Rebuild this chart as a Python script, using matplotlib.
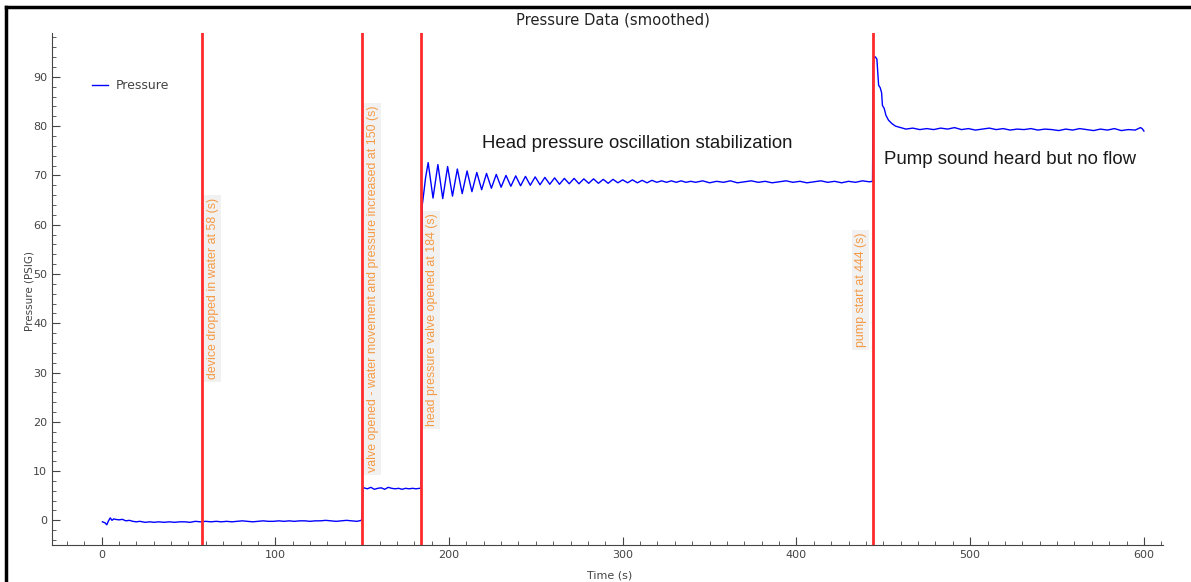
import matplotlib
matplotlib.use('Agg')
import matplotlib.pyplot as plt
from matplotlib.lines import Line2D
from matplotlib.ticker import MultipleLocator

# pressure trace (time in s, pressure in PSIG)
t_rest = [0.5, 2, 3, 4, 5, 6, 7, 8, 10, 12, 14, 16, 18, 20, 22, 25, 28, 30, 33, 36, 39, 42, 45, 48,
          51, 54, 57, 60, 63, 66, 69, 72, 75, 78, 81, 84, 87, 90, 93, 96, 99, 102, 105, 108, 111,
          114, 117, 120, 123, 126, 129, 132, 135, 138, 141, 144, 147, 149.6]
p_rest = [-0.3, -0.5, -0.9, -0.1, 0.5, 0.0, 0.3, 0.2, 0.1, 0.2, -0.1, 0.0, -0.2, -0.3, -0.2, -0.4,
          -0.3, -0.4, -0.3, -0.4, -0.3, -0.4, -0.3, -0.3, -0.4, -0.2, -0.3, -0.2, -0.3, -0.2,
          -0.3, -0.2, -0.3, -0.2, -0.1, -0.2, -0.3, -0.2, -0.1, -0.2, -0.2, -0.1, -0.2, -0.1,
          -0.2, -0.1, -0.1, -0.2, -0.1, -0.1, 0.0, -0.1, -0.2, -0.1, 0.0, -0.1, -0.2, 0.0]

t_valve = [150.0, 150.4, 151, 153, 155, 157, 159, 161, 163, 165, 167, 169, 171, 173, 175, 177,
           179, 181, 183, 184.0]
p_valve = [0.8, 6.7, 6.6, 6.4, 6.7, 6.3, 6.5, 6.6, 6.3, 6.7, 6.5, 6.4, 6.5, 6.3, 6.5, 6.4,
           6.5, 6.4, 6.5, 6.5]

t_head = [184.6, 185.5, 186.5, 188, 190.8, 193.6, 196.4, 199.2, 202, 204.8, 207.6, 210.4, 213.2,
          216, 218.8, 221.6, 224.4, 227.2, 230, 232.8, 235.6, 238.4, 241.2, 244, 246.8, 249.6,
          252.4, 255.2, 258, 260.8, 263.6, 266.4, 269.2, 272, 274.8, 277.6, 280.4, 283.2, 286,
          288.8, 291.6, 294.4, 297.2, 300, 302.8, 305.6, 308.4, 311.2, 314, 316.8, 319.6, 322.4,
          325.2, 328, 330.8, 333.6, 336.4, 339.2, 342, 346, 350, 354, 358, 362, 366, 370, 374,
          378, 382, 386, 390, 394, 398, 402, 406, 410, 414, 418, 422, 426, 430, 434, 438, 442,
          443.8]
p_head = [64.0, 66.5, 69.5, 72.6, 65.4, 72.2, 65.3, 71.8, 65.8, 71.3, 66.3, 70.9, 66.7, 70.6,
          67.1, 70.4, 67.4, 70.2, 67.6, 70.0, 67.8, 69.9, 67.9, 69.8, 68.0, 69.7, 68.1, 69.6,
          68.2, 69.5, 68.2, 69.4, 68.3, 69.4, 68.3, 69.3, 68.4, 69.3, 68.4, 69.2, 68.4, 69.2,
          68.5, 69.1, 68.5, 69.1, 68.5, 69.0, 68.5, 69.0, 68.6, 68.9, 68.6, 68.9, 68.6, 68.9,
          68.6, 68.8, 68.6, 68.9, 68.5, 68.8, 68.6, 68.9, 68.5, 68.7, 68.9, 68.6, 68.8, 68.5,
          68.7, 68.9, 68.6, 68.8, 68.5, 68.7, 68.9, 68.6, 68.8, 68.5, 68.8, 68.6, 68.9, 68.7,
          68.8]

t_pump = [444.2, 444.6, 445.5, 446.3, 446.8, 447.3, 448.2, 449.0, 449.5, 450.5, 451.5, 453,
          455, 457, 460, 463, 467, 471, 475, 479, 483, 487, 491, 495, 499, 503, 507, 511, 515,
          519, 523, 527, 531, 535, 539, 543, 547, 551, 555, 559, 563, 567, 571, 575, 579, 583,
          587, 591, 595, 598, 599, 600]
p_pump = [92.5, 94.2, 94.0, 93.6, 91.0, 88.3, 87.8, 86.8, 84.2, 83.6, 82.2, 81.2, 80.5, 80.0,
          79.7, 79.4, 79.6, 79.3, 79.5, 79.3, 79.6, 79.4, 79.7, 79.3, 79.5, 79.2, 79.4, 79.6,
          79.3, 79.5, 79.2, 79.4, 79.3, 79.5, 79.2, 79.4, 79.3, 79.1, 79.4, 79.2, 79.5, 79.3,
          79.1, 79.4, 79.2, 79.5, 79.1, 79.3, 79.2, 79.7, 79.5, 79.0]

# event markers
event_t = [58, 150, 184, 444]
event_text = ['device dropped in water at 58 (s)',
              'valve opened - water movement and pressure increased at 150 (s)',
              'head pressure valve opened at 184 (s)',
              'pump start at 444 (s)']
event_text_y = [47, 47, 40.7, 46.7]
event_text_dx = [6, 6, 6, -7]

t_all = t_rest + t_valve + t_head + t_pump
p_all = p_rest + p_valve + p_head + p_pump

fig = plt.figure(figsize=(11.91, 5.82), dpi=100)
ax = fig.add_axes([0.0437, 0.0636, 0.9328, 0.8797])

ax.plot(t_all, p_all, color='#0000ff', lw=1.0, label='Pressure')

for x, txt, ty, dx in zip(event_t, event_text, event_text_y, event_text_dx):
    ax.axvline(x, color='#ff2a2a', lw=2)
    ax.text(x + dx, ty, txt, rotation=90, ha='center', va='center', fontsize=8.9,
            family='Liberation Sans', color='#f59a45',
            bbox=dict(facecolor='#f1f1f1', edgecolor='none', pad=2))

ax.text(218.8, 76.4, 'Head pressure oscillation stabilization', fontsize=13.4,
        family='Liberation Sans', color='#1a1a1a', va='center')
ax.text(450.2, 73.2, 'Pump sound heard but no flow', fontsize=13.4,
        family='Liberation Sans', color='#1a1a1a', va='center')

ax.set_xlim(-28.5, 611)
ax.set_ylim(-5, 98.9)
ax.xaxis.set_major_locator(MultipleLocator(100))
ax.xaxis.set_minor_locator(MultipleLocator(10))
ax.yaxis.set_major_locator(MultipleLocator(10))
ax.yaxis.set_minor_locator(MultipleLocator(2))
ax.tick_params(which='both', direction='in', colors='#444444', labelsize=8)
ax.tick_params(which='major', length=6)
ax.tick_params(which='minor', length=3)
for s in ['top', 'right']:
    ax.spines[s].set_visible(False)
for s in ['left', 'bottom']:
    ax.spines[s].set_color('#444444')

leg = ax.legend(loc='upper left', bbox_to_anchor=(0.026, 0.932), frameon=False,
                handlelength=1.3, handletextpad=0.6, fontsize=9)
for txt in leg.get_texts():
    txt.set_color('#444444')

fig.text(0.515, 0.965, 'Pressure Data (smoothed)', ha='center', va='center', fontsize=10.6,
         color='#222222')
fig.text(0.512, 0.012, 'Time (s)', ha='center', va='center', fontsize=8, color='#444444')
fig.text(0.025, 0.5, 'Pressure (PSIG)', ha='center', va='center', rotation=90,
         fontsize=7.5, color='#444444')

# black frame around the screenshot
fig.add_artist(Line2D([0.0048, 0.0048], [0, 0.988], color='black', lw=2.5))
fig.add_artist(Line2D([0.0048, 1.0], [0.988, 0.988], color='black', lw=2.5))

fig.savefig('out.png', dpi=100)
